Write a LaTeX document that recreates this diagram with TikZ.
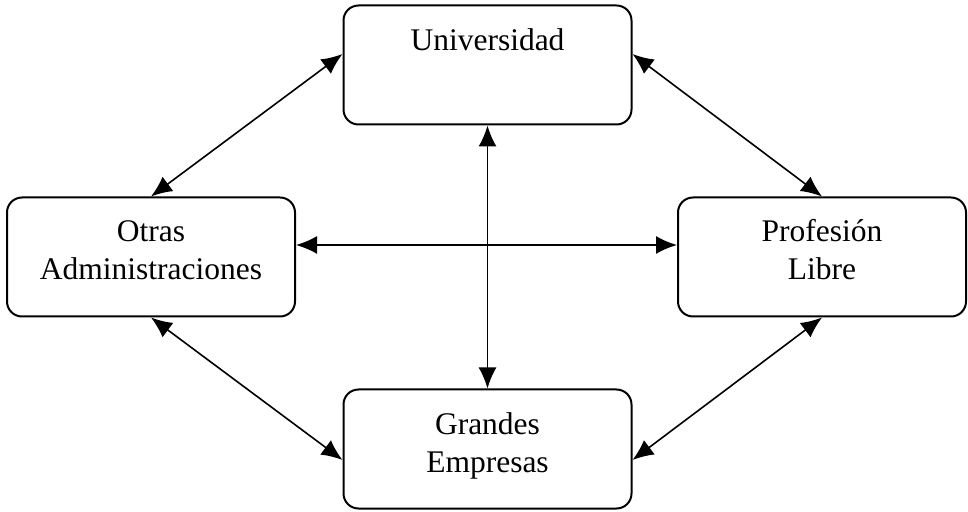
\documentclass[tikz,border=0pt]{standalone}
\usepackage{fontspec}
\setmainfont{Liberation Serif}
\usetikzlibrary{arrows.meta,positioning}

\begin{document}
\begin{tikzpicture}[
    x=0.5pt, y=-0.5pt,
    entity/.style={rectangle, draw, rounded corners=7.5pt, line width=1pt, minimum width=144pt, minimum height=59.5pt},
    caption/.style={inner sep=0pt, align=center, font=\fontsize{15.75}{19}\selectfont},
    arrow/.style={<->, line width=0.8pt, >={Latex[length=10.5pt,width=9pt]}}
]
\useasboundingbox (0,0) rectangle (968,512);

% Universidad
\node[entity] (univ) at (487.5,65) {};
\node[caption, below=11.8pt of univ.north] (univtext) {Universidad};

% Otras Administraciones
\node[entity] (otras) at (151,257) {};
\node[caption, below=11.8pt of otras.north] (otrastext) {Otras\\Administraciones};

% Profesion Libre
\node[entity] (prof) at (822,257) {};
\node[caption, below=11pt of prof.north] (proftext) {Profesión\\Libre};

% Grandes Empresas
\node[entity] (grandes) at (487.5,449) {};
\node[caption, below=11.8pt of grandes.north] (grandestext) {Grandes\\Empresas};

% Connections
\draw[arrow] ([yshift=5.5pt]univ.west) -- (otras.north);
\draw[arrow] ([yshift=5.5pt]univ.east) -- (prof.north);
\draw[arrow] (otras.south) -- ([yshift=-5.5pt]grandes.west);
\draw[arrow] (prof.south) -- ([yshift=-5.5pt]grandes.east);
\draw[arrow] ([yshift=6pt]otras.east) -- ([yshift=6pt]prof.west);
\draw[arrow] (univ.south) -- (grandes.north);

\end{tikzpicture}
\end{document}
